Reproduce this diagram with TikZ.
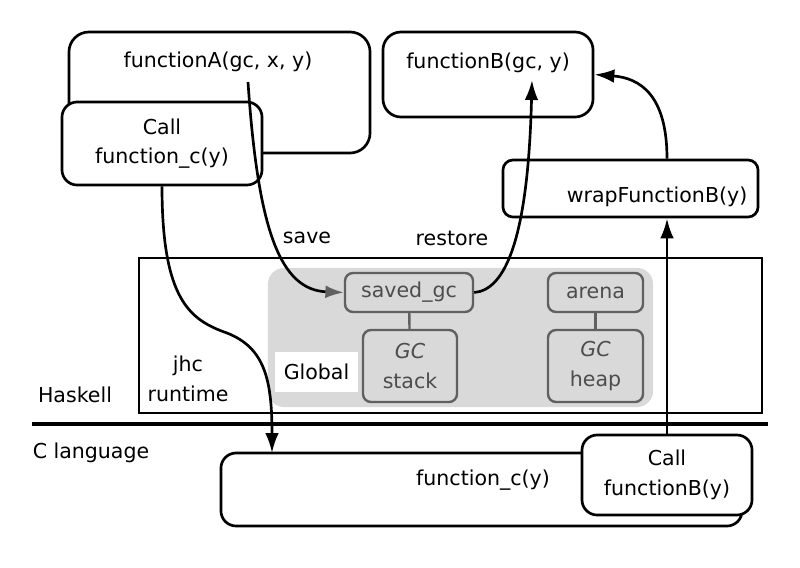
\documentclass[tikz,border=0pt]{standalone}
\usepackage{fontspec}
\setmainfont{DejaVu Sans}
\usetikzlibrary{arrows.meta, positioning}
\definecolor{globalfill}{HTML}{D9D9D9}
\definecolor{globalline}{HTML}{606060}
\definecolor{globaltext}{HTML}{4D4D4D}

\begin{document}
\begin{tikzpicture}[
        x=0.025cm, y=-0.025cm,
        font=\fontsize{14.6}{21}\selectfont,
        fnbox/.style={
            draw,
            line width=1.9pt,
            rounded corners=#1,
            fill=white,
            align=center
        },
        fnbox/.default=0.4cm,
        gcbox/.style={
            draw=globalline,
            line width=1.7pt,
            rounded corners=0.2cm,
            fill=globalfill,
            text=globaltext,
            align=center
        },
        callarrow/.style={-{Latex[length=5mm, width=3.4mm]}, line width=1.9pt},
        savearrow/.style={-{Latex[length=4.6mm, width=3.2mm, color=globalline]}, line width=1.9pt},
        plainlabel/.style={align=center}
    ]
        \useasboundingbox (0,0) rectangle (800,567);

        \node[fnbox=0.5cm, minimum width=7.525cm, minimum height=3.025cm] (funca) at (219.5,92.5) {};
        \node[plainlabel] (funcatext) at (218,62) {functionA(gc, x, y)};
        \node[fnbox=0.38cm, minimum width=5cm, minimum height=2.075cm] (callc) at (162,143.5) {Call\\function\_c(y)};
        \node[fnbox=0.45cm, minimum width=5.25cm, minimum height=2.125cm] (funcb) at (488,74.5) {};
        \node[plainlabel] (funcbtext) at (488,63) {functionB(gc, y)};
        \node[fnbox=0.25cm, minimum width=6.375cm, minimum height=1.425cm] (wrapb) at (630.5,188.5) {};
        \node[plainlabel] (wrapbtext) at (657,197) {wrapFunctionB(y)};

        \node[draw, line width=1.9pt, minimum width=15.575cm, minimum height=3.875cm] (runtime) at (450.5,335.5) {};
        \node[fill=globalfill, rounded corners=0.4cm, minimum width=9.625cm, minimum height=3.475cm] (global) at (460.5,337.5) {};
        \node[gcbox, minimum width=3.2cm, minimum height=0.975cm] (savedgc) at (409,292.5) {saved\_gc};
        \node[gcbox, minimum width=2.375cm, minimum height=0.975cm] (arena) at (595.5,292.5) {arena};
        \node[gcbox, minimum width=2.35cm, minimum height=1.8cm] (gcstack) at (410,366) {\textit{GC}\\stack};
        \node[gcbox, minimum width=2.375cm, minimum height=1.8cm] (gcheap) at (595.5,366) {\textit{GC}\\heap};
        \draw[globalline, line width=1.7pt] (savedgc) -- (gcstack);
        \draw[globalline, line width=1.7pt] (arena) -- (gcheap);
        \node[fill=white, minimum width=2.075cm, minimum height=1cm] (globallabel) at (316.5,372) {Global};

        \node[plainlabel] (jhc) at (188,379) {jhc\\runtime};
        \node[plainlabel] (haskell) at (75,395) {Haskell};
        \node[plainlabel] (clang) at (91,453) {C language};
        \coordinate (divleft) at (32,424);
        \coordinate (divright) at (768,424);
        \draw[line width=3pt] (divleft) -- (divright);

        \node[fnbox=0.38cm, minimum width=13.025cm, minimum height=1.825cm] (funcc) at (481.5,489.5) {};
        \node[plainlabel] (funcctext) at (483,480) {function\_c(y)};
        \node[fnbox=0.38cm, minimum width=4.25cm, minimum height=2cm] (callb) at (667,475) {Call\\functionB(y)};

        \coordinate (gcout) at (248,82);
        \coordinate (gcin) at (532,80);
        \coordinate (funccin) at (272,453);
        \draw[savearrow] (gcout) .. controls (258,230) and (280,290) .. (savedgc.west);
        \draw[callarrow] (savedgc.east) .. controls (505,290) and (528,240) .. (gcin);
        \draw[callarrow] (callc.south) .. controls (162,300) and (190,320) .. (227,333)
            .. controls (265,348) and (272,380) .. (funccin);
        \draw[callarrow] (callb.north) -- (callb.north |- wrapb.south);
        \draw[callarrow] (callb.north |- wrapb.north) .. controls (667,95) and (640,78) .. (funcb.east);
        \node[plainlabel] (save) at (307,238) {save};
        \node[plainlabel] (restore) at (452,238) {restore};
    \end{tikzpicture}
\end{document}
